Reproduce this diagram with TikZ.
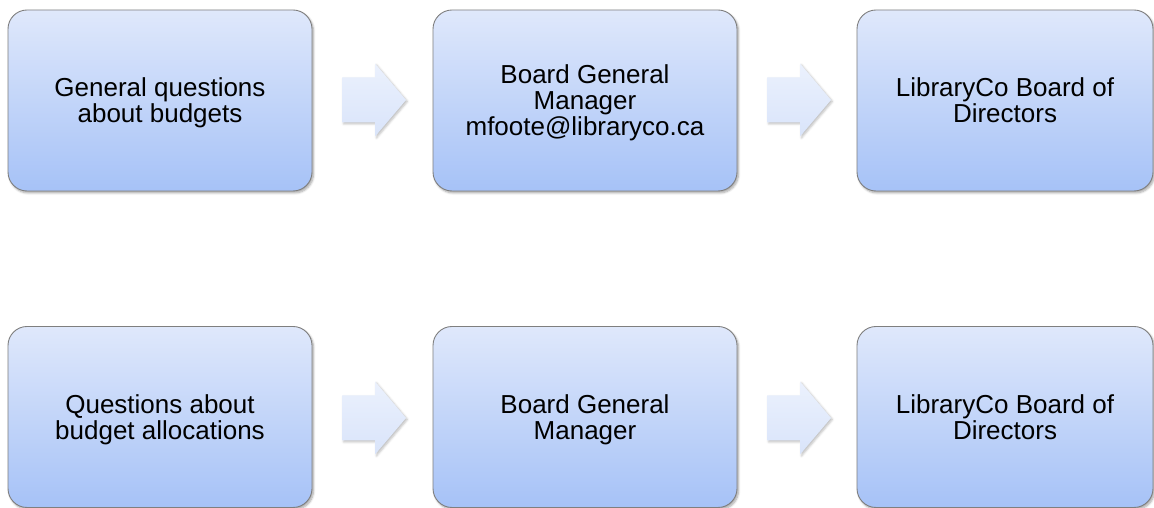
\documentclass[tikz,border=0pt]{standalone}
\usepackage{fontspec}
\setmainfont{Liberation Sans}
\usetikzlibrary{shadows.blur}
\definecolor{boxtop}{HTML}{DFE8FB}
\definecolor{boxbot}{HTML}{A6C2F7}
\definecolor{boxline}{HTML}{7F7F7F}
\definecolor{arrtop}{HTML}{EBF1FD}
\definecolor{arrbot}{HTML}{D9E4FA}
\tikzset{
  box/.style={rectangle, rounded corners=19pt, draw=boxline, line width=0.9pt,
    top color=boxtop, bottom color=boxbot, minimum width=304pt, minimum height=181pt,
    align=center, font=\fontsize{26}{26}\selectfont, inner sep=0pt, text depth=0pt,
    blur shadow={shadow xshift=1.5pt, shadow yshift=-2pt, shadow blur steps=6, shadow opacity=35}},
  flowfill/.style={top color=arrtop, bottom color=arrbot,
    blur shadow={shadow xshift=1.5pt, shadow yshift=-1.5pt, shadow blur steps=4, shadow opacity=25}}
}
\newcommand{\flowarrow}[1]{%
  \path[flowfill] ([shift={(-32,-22.5)}]#1) -- ++(33,0) -- ++(0,-14) -- ([shift={(32,0)}]#1)
    -- ([shift={(1,36.5)}]#1) -- ++(0,-14) -- ([shift={(-32,22.5)}]#1) -- cycle;}
\begin{document}
\begin{tikzpicture}[x=1pt,y=1pt]
\useasboundingbox (0,0) rectangle (1154,508);
\begin{scope}
\clip (0,0) rectangle (1154,508);
% top row
\node[box] (a1) at (160,407.5) {General questions\\about budgets};
\coordinate (f1) at (374,408);
\flowarrow{f1}
\node[box] (a2) at (585,407.5) {Board General\\Manager\\mfoote@libraryco.ca};
\coordinate (f2) at (799,408);
\flowarrow{f2}
\node[box, minimum width=296pt] (a3) at (1005,407.5) {LibraryCo Board of\\Directors};
% bottom row
\node[box] (b1) at (160,91) {Questions about\\budget allocations};
\coordinate (g1) at (374,90);
\flowarrow{g1}
\node[box] (b2) at (585,91) {Board General\\Manager};
\coordinate (g2) at (799,90);
\flowarrow{g2}
\node[box, minimum width=296pt] (b3) at (1005,91) {LibraryCo Board of\\Directors};
\end{scope}
\end{tikzpicture}
\end{document}
